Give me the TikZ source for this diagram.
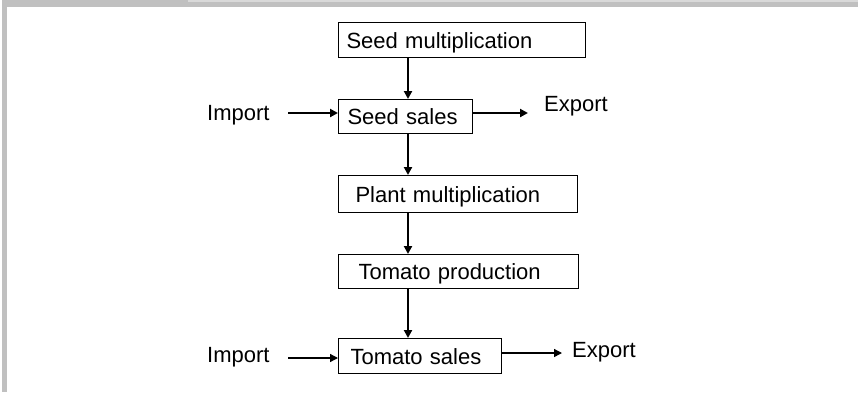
\documentclass[tikz,border=0pt]{standalone}
\usepackage{fontspec}
\setmainfont{Liberation Sans}
\usetikzlibrary{arrows.meta}
\definecolor{framegray}{HTML}{C0C0C0}
\definecolor{framelight}{HTML}{D9D9D9}
\begin{document}
\begin{tikzpicture}[x=1pt,y=-1pt,
  stepbox/.style={draw=black, line width=1pt, rectangle, anchor=north west, align=left, inner ysep=0pt, text height=18pt, text depth=1.5pt, font=\fontsize{22}{24}\selectfont},
  lbl/.style={anchor=base west, inner sep=0pt, font=\fontsize{22}{24}\selectfont},
  flow/.style={line width=2pt, -{Triangle[length=8pt,width=8pt]}},
  thinflow/.style={line width=1.3pt, -{Triangle[length=8pt,width=8pt]}}]
\useasboundingbox (0,0) rectangle (858,392);
% frame
\fill[framegray] (2,0) rectangle (858,7);
\fill[framelight] (188,0) rectangle (858,2);
\fill[framegray] (2,0) rectangle (7,392);
% boxes
\node[stepbox, text width=231pt, inner xsep=8pt, minimum height=35pt] (sm) at (338,22) {Seed multiplication};
\node[stepbox, text width=116pt, inner xsep=9pt, minimum height=34pt] (ss) at (338,99) {Seed sales};
\node[stepbox, text width=205pt, inner xsep=17pt, minimum height=37pt] (pm) at (338,175) {Plant multiplication};
\node[stepbox, text width=200pt, inner xsep=20pt, minimum height=34pt] (tp) at (338,254) {Tomato production};
\node[stepbox, text width=139pt, inner xsep=12pt, minimum height=35pt] (ts) at (338,338) {Tomato sales};
% vertical flow
\coordinate (vx) at (408,0);
\draw[flow] (sm.south -| vx) -- (ss.north -| vx);
\draw[flow] (ss.south -| vx) -- (pm.north -| vx);
\draw[flow] (pm.south -| vx) -- (tp.north -| vx);
\draw[flow] (tp.south -| vx) -- (ts.north -| vx);
% import / export top
\node[lbl] (imp1) at (207,120.7) {Import};
\coordinate (i1) at (288,113);
\draw[flow] (i1) -- (ss.west |- i1);
\node[lbl] (exp1) at (544,111.7) {Export};
\coordinate (e1) at (528,113);
\draw[flow] (ss.east |- e1) -- (e1);
% import / export bottom
\node[lbl] (imp2) at (207,362.7) {Import};
\coordinate (i2) at (288,358);
\draw[thinflow] (i2) -- (ts.west |- i2);
\node[lbl] (exp2) at (572,357) {Export};
\coordinate (e2) at (562,353);
\draw[thinflow] (ts.east |- e2) -- (e2);
\end{tikzpicture}
\end{document}
